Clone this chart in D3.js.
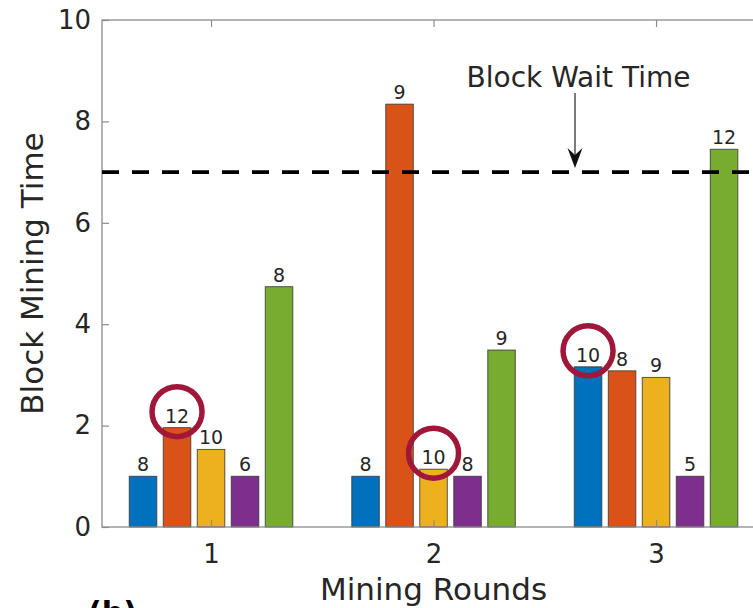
<!DOCTYPE html>
<html>
<head>
<meta charset="utf-8">
<script src="https://cdn.jsdelivr.net/npm/d3@7"></script>
<style>
  html, body { margin: 0; padding: 0; background: #fff; }
  svg { display: block; }
  text { font-family: "DejaVu Sans", sans-serif; }
</style>
</head>
<body>
<svg id="chart" width="753" height="608"></svg>
<script>
// Mining rounds on the x axis, five miners per round
const rounds = [1, 2, 3];
const miners = ["Miner 1", "Miner 2", "Miner 3", "Miner 4", "Miner 5"];
const minerColors = ["#0072BD", "#D95319", "#EDB120", "#7E2F8E", "#77AC30"];

// Block mining time per miner, one array per round
const round1Times = [1.0, 1.96, 1.53, 1.0, 4.74];
const round2Times = [1.0, 8.34, 1.14, 1.0, 3.49];
const round3Times = [3.16, 3.08, 2.95, 1.0, 7.45];

// Count printed above each bar
const round1Counts = [8, 12, 10, 6, 8];
const round2Counts = [8, 9, 10, 8, 9];
const round3Counts = [10, 8, 9, 5, 12];

// Miner circled in each round
const circledMiner = [1, 2, 0];

const waitTime = 7;
const yTicks = [0, 2, 4, 6, 8, 10];

const times = [round1Times, round2Times, round3Times];
const counts = [round1Counts, round2Counts, round3Counts];

const svg = d3.select("#chart");
const plotLeft = 102, plotRight = 767.3, plotTop = 20, plotBottom = 527;

const x = d3.scaleLinear().domain([0.51, 3.5]).range([plotLeft, plotRight]);
const y = d3.scaleLinear().domain([0, 10]).range([plotBottom, plotTop]);
const unit = x(2) - x(1);
const inner = d3.scaleBand()
  .domain(miners)
  .range([-0.3675 * unit, 0.3675 * unit])
  .paddingInner(0.19)
  .paddingOuter(0);

const axisColor = "#8c8c8c";
const textColor = "#262626";

// Bars
const groups = svg.append("g").selectAll("g")
  .data(rounds)
  .join("g")
  .attr("transform", d => `translate(${x(d)},0)`);

groups.selectAll("rect")
  .data((r, i) => times[i].map((v, j) => ({ v, j })))
  .join("rect")
  .attr("x", d => inner(miners[d.j]))
  .attr("width", inner.bandwidth())
  .attr("y", d => y(d.v))
  .attr("height", d => y(0) - y(d.v))
  .attr("fill", d => minerColors[d.j])
  .attr("stroke", "#333")
  .attr("stroke-opacity", 0.8)
  .attr("stroke-width", 1);

// Count labels
groups.selectAll("text.count")
  .data((r, i) => times[i].map((v, j) => ({ v, j, c: counts[i][j] })))
  .join("text")
  .attr("class", "count")
  .attr("x", d => inner(miners[d.j]) + inner.bandwidth() / 2)
  .attr("y", d => y(d.v) - 5)
  .attr("text-anchor", "middle")
  .attr("font-size", 19)
  .attr("fill", textColor)
  .text(d => d.c);

// Circles around highlighted counts
groups.append("circle")
  .attr("cx", (r, i) => inner(miners[circledMiner[i]]) + inner.bandwidth() / 2)
  .attr("cy", (r, i) => y(times[i][circledMiner[i]]) - 16)
  .attr("r", 25)
  .attr("fill", "none")
  .attr("stroke", "#A0173A")
  .attr("stroke-width", 5.5);

// Axes box
svg.append("rect")
  .attr("x", plotLeft).attr("y", plotTop)
  .attr("width", plotRight - plotLeft).attr("height", plotBottom - plotTop)
  .attr("fill", "none")
  .attr("stroke", axisColor)
  .attr("stroke-width", 1.3);

const yAxis = svg.append("g")
  .attr("transform", `translate(${plotLeft},0)`)
  .call(d3.axisLeft(y).tickValues(yTicks).tickFormat(d3.format("d"))
    .tickSize(-7).tickSizeOuter(0).tickPadding(11));
yAxis.select(".domain").remove();
yAxis.selectAll("line").attr("stroke", axisColor).attr("stroke-width", 1.2);
yAxis.selectAll("text").attr("font-size", 26).attr("fill", textColor)
  .attr("font-family", "DejaVu Sans");

const xAxis = svg.append("g")
  .attr("transform", `translate(0,${plotBottom})`)
  .call(d3.axisBottom(x).tickValues(rounds).tickFormat(d3.format("d"))
    .tickSize(-7).tickSizeOuter(0).tickPadding(18));
xAxis.select(".domain").remove();
xAxis.selectAll("line").attr("stroke", axisColor).attr("stroke-width", 1.2);
xAxis.selectAll("text").attr("font-size", 26).attr("fill", textColor)
  .attr("font-family", "DejaVu Sans");

const xTop = svg.append("g")
  .attr("transform", `translate(0,${plotTop})`)
  .call(d3.axisTop(x).tickValues(rounds).tickFormat("").tickSize(-7).tickSizeOuter(0));
xTop.select(".domain").remove();
xTop.selectAll("line").attr("stroke", axisColor).attr("stroke-width", 1.2);

// Wait time threshold
svg.append("line")
  .attr("x1", plotLeft).attr("x2", plotRight)
  .attr("y1", y(waitTime)).attr("y2", y(waitTime))
  .attr("stroke", "#000")
  .attr("stroke-width", 3.6)
  .attr("stroke-dasharray", "17,13");

// Annotation arrow
const ax = 575;
svg.append("line")
  .attr("x1", ax).attr("x2", ax)
  .attr("y1", 93).attr("y2", y(waitTime) - 8)
  .attr("stroke", "#222").attr("stroke-width", 1.2);
const tipY = y(waitTime) - 4;
svg.append("path")
  .attr("d", `M${ax},${tipY} L${ax - 7.5},${tipY - 20} L${ax},${tipY - 13} L${ax + 7.5},${tipY - 20} Z`)
  .attr("fill", "#111");

svg.append("text")
  .attr("x", 578.5).attr("y", 87)
  .attr("text-anchor", "middle")
  .attr("font-size", 28)
  .attr("fill", textColor)
  .text("Block Wait Time");

// Axis titles
svg.append("text")
  .attr("transform", `translate(43,${(plotTop + plotBottom) / 2}) rotate(-90)`)
  .attr("text-anchor", "middle")
  .attr("font-size", 31)
  .attr("fill", textColor)
  .text("Block Mining Time");

svg.append("text")
  .attr("x", x(2)).attr("y", 600)
  .attr("text-anchor", "middle")
  .attr("font-size", 31)
  .attr("fill", textColor)
  .text("Mining Rounds");

// Figure caption
svg.append("text")
  .attr("x", 88).attr("y", 623)
  .attr("font-family", "Liberation Sans, sans-serif")
  .attr("font-weight", "bold")
  .attr("font-size", 30)
  .attr("fill", "#000")
  .text("(b)");
</script>
</body>
</html>
